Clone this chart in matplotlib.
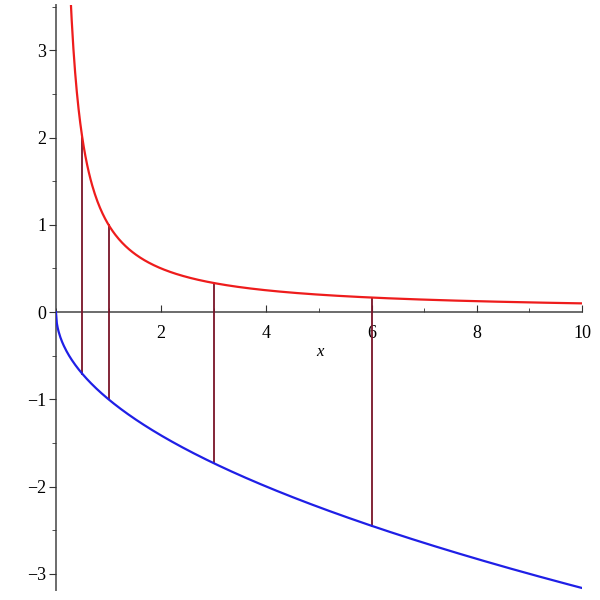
import numpy as np
import matplotlib.pyplot as plt
from matplotlib.ticker import MultipleLocator

# curves: y = 1/x (red) and y = -sqrt(x) (blue), with vertical segments between them
X_MIN, X_MAX = 0.0, 10.0
Y_MIN, Y_MAX = -3.185, 3.52
seg_x = [0.5, 1.0, 3.0, 6.0]
x_ticks = [2, 4, 6, 8, 10]
y_ticks = [-3, -2, -1, 0, 1, 2, 3]

x_red = np.linspace(0.25, X_MAX, 600)
y_red = 1.0 / x_red
x_blue = np.linspace(0.0, X_MAX, 600)
y_blue = -np.sqrt(x_blue)

fig = plt.figure(figsize=(6, 6), dpi=100)
ax = fig.add_axes([0.0933, 0.0167, 0.8767, 0.975])
ax.set_xlim(X_MIN, X_MAX)
ax.set_ylim(Y_MIN, Y_MAX)

for xs in seg_x:
    ax.plot([xs, xs], [-np.sqrt(xs), 1.0 / xs], color="#7a1428", lw=1.3, zorder=2)

ax.plot(x_red, y_red, color="#ee1c1c", lw=1.6, zorder=3, clip_on=True)
ax.plot(x_blue, y_blue, color="#1f1fe6", lw=1.6, zorder=3, clip_on=True)

# maple-style axes crossing at the origin
for s in ("top", "right"):
    ax.spines[s].set_visible(False)
ax.spines["left"].set_position(("data", 0))
ax.spines["bottom"].set_position(("data", 0))
for s in ("left", "bottom"):
    ax.spines[s].set_color("#6b6b6b")
    ax.spines[s].set_linewidth(1.4)
    ax.spines[s].set_zorder(1)

ax.set_xticks(x_ticks)
ax.set_yticks(y_ticks)
ax.xaxis.set_minor_locator(MultipleLocator(1))
ax.yaxis.set_minor_locator(MultipleLocator(0.5))
ax.tick_params(axis="x", which="both", direction="in", color="#333333",
               pad=9, labelsize=13)
ax.tick_params(axis="x", which="major", length=5)
ax.tick_params(axis="x", which="minor", length=3)
ax.tick_params(axis="y", which="both", direction="out", color="#333333",
               pad=2, labelsize=13)
ax.tick_params(axis="y", which="major", length=5)
ax.tick_params(axis="y", which="minor", length=3)
ax.set_yticklabels(["\u22123", "\u22122", "\u22121", "0", "1", "2", "3"])
for lab in ax.get_xticklabels() + ax.get_yticklabels():
    lab.set_family("Liberation Serif")

ax.text(5.02, -0.46, "x", fontsize=12, style="italic",
        family="Liberation Serif", ha="center", va="center")

fig.savefig("out.png", dpi=100)
